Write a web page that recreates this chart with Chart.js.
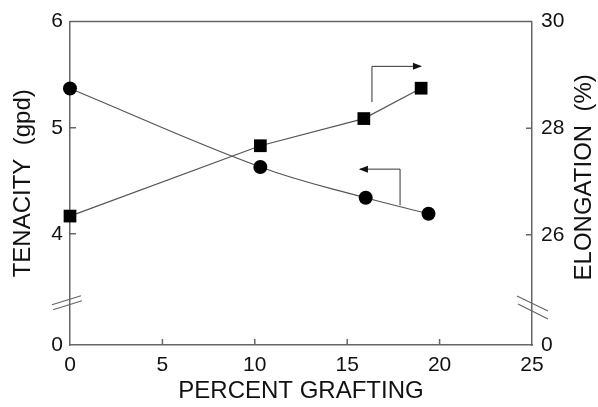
<!DOCTYPE html>
<html>
<head>
<meta charset="utf-8">
<script src="https://cdn.jsdelivr.net/npm/chart.js@4/dist/chart.umd.min.js"></script>
<style>
  html, body { margin: 0; padding: 0; background: #fff; }
  #wrap { width: 598px; height: 407px; }
</style>
</head>
<body>
<div id="wrap"><canvas id="chart"></canvas></div>
<script>
// values
const graftingTenacity = [0, 10.3, 16.0, 19.4];
const tenacity = [5.37, 4.63, 4.34, 4.19];
const graftingElongation = [0, 10.3, 15.9, 19.0];
const elongation = [26.35, 27.67, 28.18, 28.75];

// broken axes: the bottom tick is labelled 0
const tenacityMin = 2.953;
const tenacityTicks = [4, 5, 6];
const elongationMin = 23.93;
const elongationTicks = [26, 28, 30];
const xTicks = [0, 5, 10, 15, 20, 25];

// arrows pointing each curve to its axis (data units)
const arrowElong = { x0: 16.34, x1: 18.99, yFrom: 28.49, yTo: 29.16 };
const arrowTen = { x0: 17.86, x1: 15.69, yFrom: 4.27, yTo: 4.61 };

const FONT = '"Liberation Sans", Arial, Helvetica, sans-serif';
const AXIS = '#666';

const toXY = (xs, ys) => xs.map((x, i) => ({ x, y: ys[i] }));

function arrow(ctx, xa, ya, xb, yb, xc, yc) {
  ctx.beginPath();
  ctx.moveTo(xa, ya);
  ctx.lineTo(xb, yb);
  ctx.lineTo(xc, yc);
  ctx.stroke();
  const dir = Math.sign(xc - xb);
  ctx.beginPath();
  ctx.moveTo(xc + dir * 1, yc);
  ctx.lineTo(xc - dir * 8, yc - 3.5);
  ctx.lineTo(xc - dir * 8, yc + 3.5);
  ctx.closePath();
  ctx.fill();
}

const decorations = {
  id: 'decorations',
  afterDraw(chart) {
    const { ctx, chartArea } = chart;
    const sx = chart.scales.x, sl = chart.scales.yL, sr = chart.scales.yR;
    ctx.save();
    // top frame line
    ctx.strokeStyle = AXIS;
    ctx.lineWidth = 1.5;
    ctx.beginPath();
    ctx.moveTo(chartArea.left, chartArea.top);
    ctx.lineTo(chartArea.right, chartArea.top);
    ctx.stroke();

    // inward tick marks
    ctx.beginPath();
    xTicks.slice(1, -1).forEach((v) => {
      const px = sx.getPixelForValue(v);
      ctx.moveTo(px, chartArea.bottom);
      ctx.lineTo(px, chartArea.bottom - 6);
    });
    tenacityTicks.slice(0, -1).forEach((v) => {
      const py = sl.getPixelForValue(v);
      ctx.moveTo(chartArea.left, py);
      ctx.lineTo(chartArea.left + 6, py);
    });
    elongationTicks.slice(0, -1).forEach((v) => {
      const py = sr.getPixelForValue(v);
      ctx.moveTo(chartArea.right, py);
      ctx.lineTo(chartArea.right - 6, py);
    });
    ctx.stroke();

    // axis break marks
    ctx.lineWidth = 1.2;
    const lx = chartArea.left;
    const lb = sl.getPixelForValue(3.37);
    ctx.beginPath();
    ctx.moveTo(lx - 18, lb + 4); ctx.lineTo(lx + 11, lb - 5);
    ctx.moveTo(lx - 17, lb + 9); ctx.lineTo(lx + 12, lb);
    ctx.stroke();
    const rx = chartArea.right;
    const rb = sr.getPixelForValue(24.7);
    ctx.beginPath();
    ctx.moveTo(rx - 15, rb - 8); ctx.lineTo(rx + 16, rb + 7);
    ctx.moveTo(rx - 14, rb); ctx.lineTo(rx + 16, rb + 15);
    ctx.stroke();

    // arrows
    ctx.strokeStyle = '#333';
    ctx.fillStyle = '#111';
    ctx.lineWidth = 1;
    arrow(ctx,
      sx.getPixelForValue(arrowElong.x0), sr.getPixelForValue(arrowElong.yFrom),
      sx.getPixelForValue(arrowElong.x0), sr.getPixelForValue(arrowElong.yTo),
      sx.getPixelForValue(arrowElong.x1), sr.getPixelForValue(arrowElong.yTo));
    arrow(ctx,
      sx.getPixelForValue(arrowTen.x0), sl.getPixelForValue(arrowTen.yFrom),
      sx.getPixelForValue(arrowTen.x0), sl.getPixelForValue(arrowTen.yTo),
      sx.getPixelForValue(arrowTen.x1), sl.getPixelForValue(arrowTen.yTo));

    // right axis title reads bottom to top
    ctx.fillStyle = '#111';
    ctx.font = '24px ' + FONT;
    ctx.textAlign = 'center';
    ctx.textBaseline = 'middle';
    ctx.translate(584, (chartArea.top + chartArea.bottom) / 2 - 6);
    ctx.rotate(-Math.PI / 2);
    ctx.fillText('ELONGATION  (%)', 0, 0);
    ctx.restore();
  }
};

const tickFont = { family: FONT, size: 21 };
const titleFont = { family: FONT, size: 24 };

new Chart(document.getElementById('chart'), {
  type: 'line',
  data: {
    datasets: [
      {
        label: 'Tenacity',
        data: toXY(graftingTenacity, tenacity),
        yAxisID: 'yL',
        clip: false,
        borderColor: '#555',
        borderWidth: 1.2,
        tension: 0.4,
        pointStyle: 'circle',
        pointRadius: 7,
        pointBackgroundColor: '#000',
        pointBorderColor: '#000',
        pointBorderWidth: 0
      },
      {
        label: 'Elongation',
        data: toXY(graftingElongation, elongation),
        yAxisID: 'yR',
        clip: false,
        borderColor: '#555',
        borderWidth: 1.2,
        tension: 0,
        pointStyle: 'rect',
        pointRadius: 9,
        pointBackgroundColor: '#000',
        pointBorderColor: '#000',
        pointBorderWidth: 0
      }
    ]
  },
  options: {
    responsive: true,
    maintainAspectRatio: false,
    animation: false,
    layout: { padding: { top: 19, left: 0, right: 0, bottom: 0 } },
    plugins: {
      legend: { display: false },
      tooltip: { enabled: false }
    },
    scales: {
      x: {
        type: 'linear',
        min: 0,
        max: 25,
        afterBuildTicks(scale) { scale.ticks = xTicks.map((v) => ({ value: v })); },
        afterFit(scale) { scale.height = 62; },
        grid: { display: false, drawTicks: false },
        border: { display: true, color: AXIS, width: 1.5 },
        ticks: { font: tickFont, color: '#111', padding: 8, maxRotation: 0 },
        title: { display: true, text: 'PERCENT GRAFTING', font: titleFont, color: '#111', padding: { top: 0, bottom: 1 } }
      },
      yL: {
        type: 'linear',
        position: 'left',
        min: tenacityMin,
        max: 6,
        afterBuildTicks(scale) {
          scale.ticks = [tenacityMin, ...tenacityTicks].map((v) => ({ value: v }));
        },
        afterFit(scale) { scale.width = 70; },
        grid: { display: false, drawTicks: false },
        border: { display: true, color: AXIS, width: 1.5 },
        ticks: {
          font: tickFont,
          color: '#111',
          padding: 7,
          callback(value) { return value === tenacityMin ? '0' : String(value); }
        },
        title: { display: true, text: 'TENACITY  (gpd)', font: titleFont, color: '#111', padding: { top: 9, bottom: 0 } }
      },
      yR: {
        type: 'linear',
        position: 'right',
        min: elongationMin,
        max: 30,
        afterBuildTicks(scale) {
          scale.ticks = [elongationMin, ...elongationTicks].map((v) => ({ value: v }));
        },
        afterFit(scale) { scale.width = 66; },
        grid: { display: false, drawTicks: false },
        border: { display: true, color: AXIS, width: 1.5 },
        ticks: {
          font: tickFont,
          color: '#111',
          padding: 9,
          callback(value) { return value === elongationMin ? '0' : String(value); }
        }
      }
    }
  },
  plugins: [decorations]
});
</script>
</body>
</html>
